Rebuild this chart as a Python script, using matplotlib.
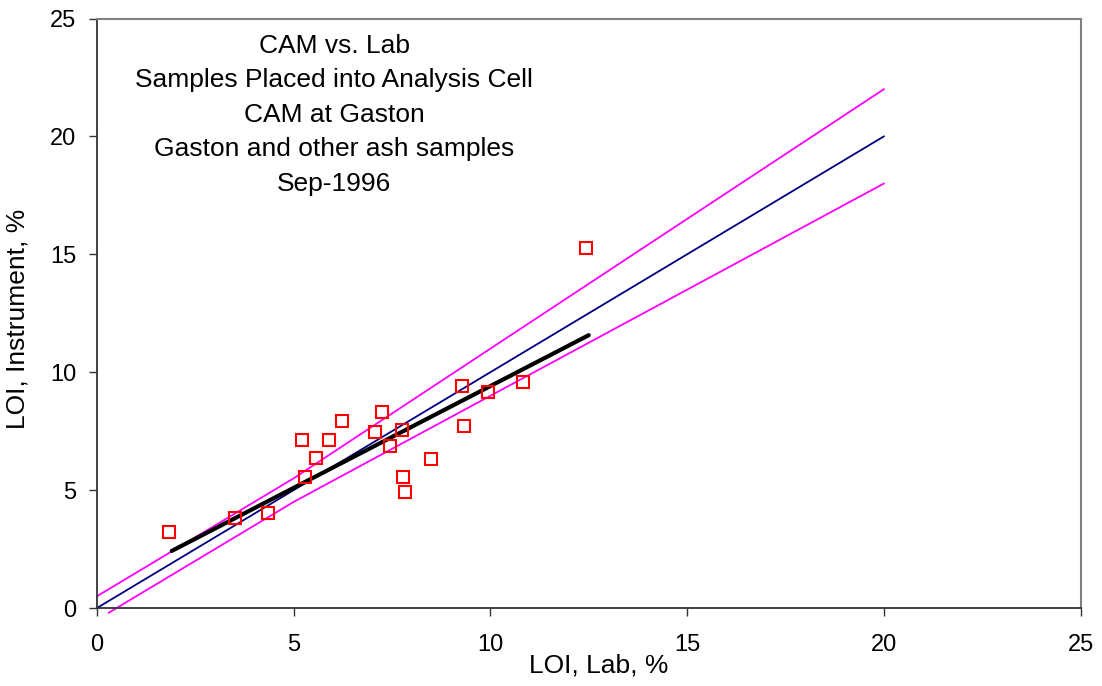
import matplotlib.pyplot as plt

plt.rcParams['font.family'] = ['Liberation Sans', 'DejaVu Sans']

# Datos
lab = [1.84, 3.52, 4.34, 5.30, 5.20, 5.56, 5.91, 6.22, 7.07, 7.24,
       7.75, 7.44, 7.79, 7.84, 8.50, 9.27, 9.32, 9.93, 10.84, 12.42]
instr = [3.23, 3.83, 4.01, 5.54, 7.13, 6.37, 7.13, 7.91, 7.47, 8.32,
         7.57, 6.88, 5.54, 4.93, 6.30, 9.42, 7.71, 9.17, 9.59, 15.27]

# Linea de ajuste
fit_x = [1.9, 12.5]
fit_y = [2.42, 11.57]

# Linea ideal y limites
ideal_x = [0, 5, 10, 20]
ideal_y = [0, 5, 10, 20]
upper_x = [0, 5, 20]
upper_y = [0.5, 5.5, 22]
lower_x = [0.3, 5, 20]
lower_y = [-0.2, 4.5, 18]

title_lines = ["CAM vs. Lab", "Samples Placed into Analysis Cell",
               "CAM at Gaston", "Gaston and other ash samples", "Sep-1996"]

fig = plt.figure(figsize=(11.02, 6.86), dpi=100)
ax = fig.add_axes([0.088, 0.1137, 0.8925, 0.8593])

ax.plot(upper_x, upper_y, color='#FF00FF', lw=1.3, clip_on=False)
ax.plot(lower_x, lower_y, color='#FF00FF', lw=1.3, clip_on=False)
ax.plot(ideal_x, ideal_y, color='#000080', lw=1.3, clip_on=False)
ax.plot(fit_x, fit_y, color='black', lw=3.0, solid_capstyle='round')
ax.plot(lab, instr, linestyle='none', marker='s', markersize=8.5,
        markerfacecolor='none', markeredgecolor='#FF0000', markeredgewidth=1.5)

ax.set_xlim(0, 25)
ax.set_ylim(0, 25)
ax.set_xticks(range(0, 26, 5))
ax.set_yticks(range(0, 26, 5))
ax.tick_params(labelsize=17, length=6, width=1, color='#333333')
ax.tick_params(axis='x', pad=13)
ax.tick_params(axis='y', pad=9)

for s in ['top', 'right']:
    ax.spines[s].set_color('#808080')
    ax.spines[s].set_linewidth(1.5)
for s in ['left', 'bottom']:
    ax.spines[s].set_color('#333333')
    ax.spines[s].set_linewidth(1.3)

ax.set_xlabel('LOI, Lab, %', fontsize=19)
ax.xaxis.set_label_coords(0.51, -0.077)
ax.set_ylabel('LOI, Instrument, %', fontsize=19)
ax.yaxis.set_label_coords(-0.069, 0.49)

ax.text(6.03, 24.35, "\n".join(title_lines), ha='center', va='top',
        fontsize=19, linespacing=1.55)

fig.savefig('out.png', dpi=100)
